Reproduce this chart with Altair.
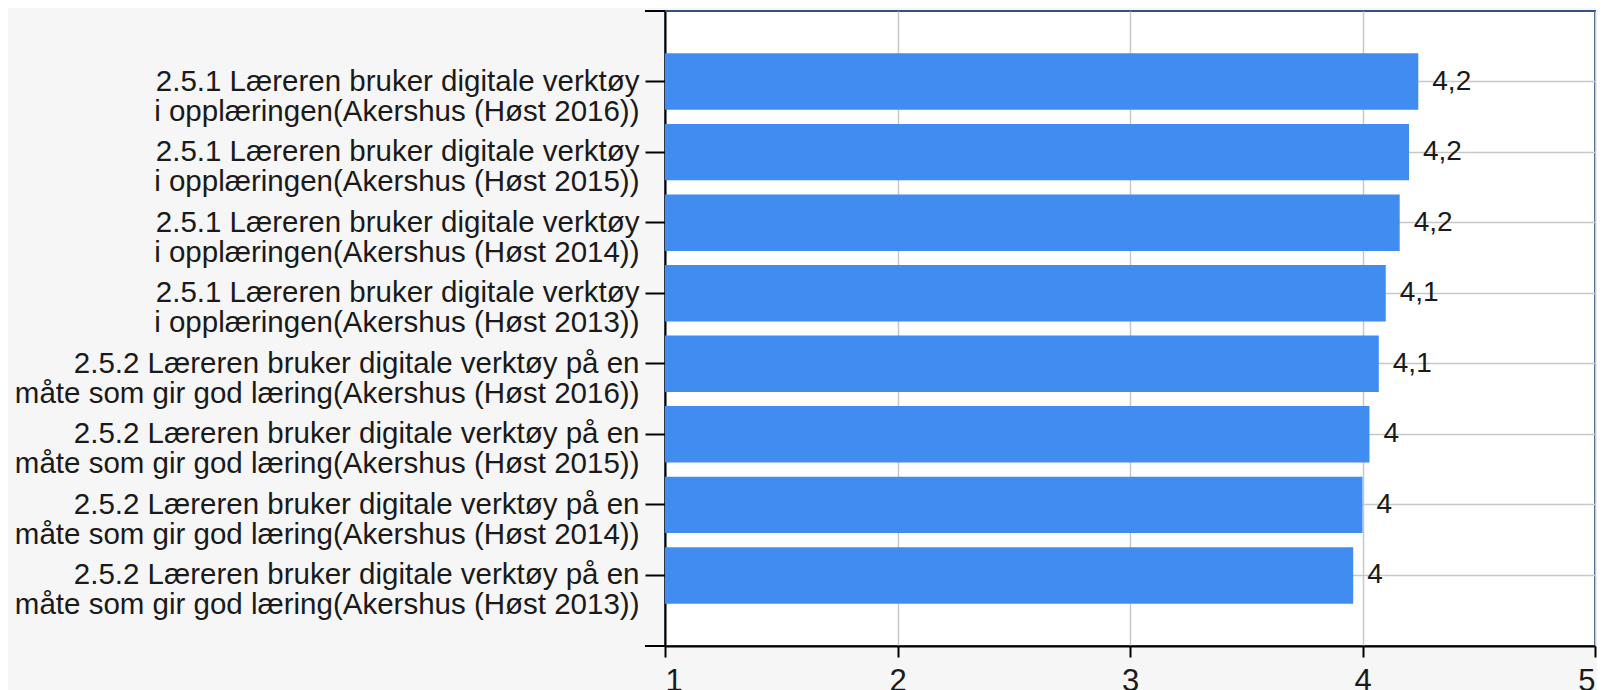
import altair as alt
import pandas as pd

line1 = [
    "2.5.1 Læreren bruker digitale verktøy",
    "2.5.1 Læreren bruker digitale verktøy",
    "2.5.1 Læreren bruker digitale verktøy",
    "2.5.1 Læreren bruker digitale verktøy",
    "2.5.2 Læreren bruker digitale verktøy på en",
    "2.5.2 Læreren bruker digitale verktøy på en",
    "2.5.2 Læreren bruker digitale verktøy på en",
    "2.5.2 Læreren bruker digitale verktøy på en",
]
line2 = [
    "i opplæringen(Akershus (Høst 2016))",
    "i opplæringen(Akershus (Høst 2015))",
    "i opplæringen(Akershus (Høst 2014))",
    "i opplæringen(Akershus (Høst 2013))",
    "måte som gir god læring(Akershus (Høst 2016))",
    "måte som gir god læring(Akershus (Høst 2015))",
    "måte som gir god læring(Akershus (Høst 2014))",
    "måte som gir god læring(Akershus (Høst 2013))",
]
values = [4.24, 4.20, 4.16, 4.10, 4.07, 4.03, 4.00, 3.96]
value_labels = ["4,2", "4,2", "4,2", "4,1", "4,1", "4", "4", "4"]
x_ticks = [1, 2, 3, 4, 5]

categories = [a + "|" + b for a, b in zip(line1, line2)]
df = pd.DataFrame({"kategori": categories, "verdi": values, "etikett": value_labels})

FONT = "Liberation Sans"
TXT = "#1a1a1a"

y_enc = alt.Y(
    "kategori:N",
    sort=categories,
    scale=alt.Scale(paddingInner=0.2, paddingOuter=0.6),
    axis=alt.Axis(
        title=None,
        labelExpr="split(datum.label, '|')",
        labelFontSize=29.5,
        labelLineHeight=30,
        labelLimit=800,
        labelPadding=6,
        labelColor=TXT,
        labelFont=FONT,
        tickSize=20,
        tickColor="black",
        tickWidth=2,
        domainColor="black",
        domainWidth=2,
        grid=True,
        gridColor="#c8c8c8",
        gridWidth=1.5,
        bandPosition=0.5,
    ),
)

x_scale = alt.Scale(domain=[1, 5], nice=False, zero=False)

bars = alt.Chart(df).mark_bar(color="#418CF0").encode(
    x=alt.X(
        "verdi:Q",
        scale=x_scale,
        axis=alt.Axis(
            title=None,
            values=x_ticks,
            format="d",
            labelFontSize=31,
            labelPadding=9,
            labelColor=TXT,
            labelFont=FONT,
            tickSize=11,
            tickColor="black",
            tickWidth=2,
            domainColor="black",
            domainWidth=2,
            grid=True,
            gridColor="#c8c8c8",
            gridWidth=1.5,
        ),
    ),
    x2=alt.datum(1),
    y=y_enc,
)

labels = alt.Chart(df).mark_text(
    align="left", baseline="middle", dx=14, fontSize=28, font=FONT, color=TXT
).encode(
    x=alt.X("verdi:Q", scale=x_scale),
    y=alt.Y("kategori:N", sort=categories),
    text="etikett:N",
)

top_tick = alt.Chart(df).mark_rule(color="black", strokeWidth=2).encode(
    x=alt.value(-20), x2=alt.value(0), y=alt.value(0)
)
bottom_tick = alt.Chart(df).mark_rule(color="black", strokeWidth=2).encode(
    x=alt.value(-20), x2=alt.value(0), y=alt.value(635)
)

chart = (
    alt.layer(bars, labels, top_tick, bottom_tick)
    .properties(
        width=930,
        height=635,
        autosize=alt.AutoSizeParams(type="none"),
        padding={"left": 657, "top": 3, "right": 2, "bottom": 44},
        background="#f6f6f6",
    )
    .configure_view(fill="white", stroke="#34527f", strokeWidth=2)
)

chart.save("out.html", embed_options={"renderer": "svg", "actions": False})
